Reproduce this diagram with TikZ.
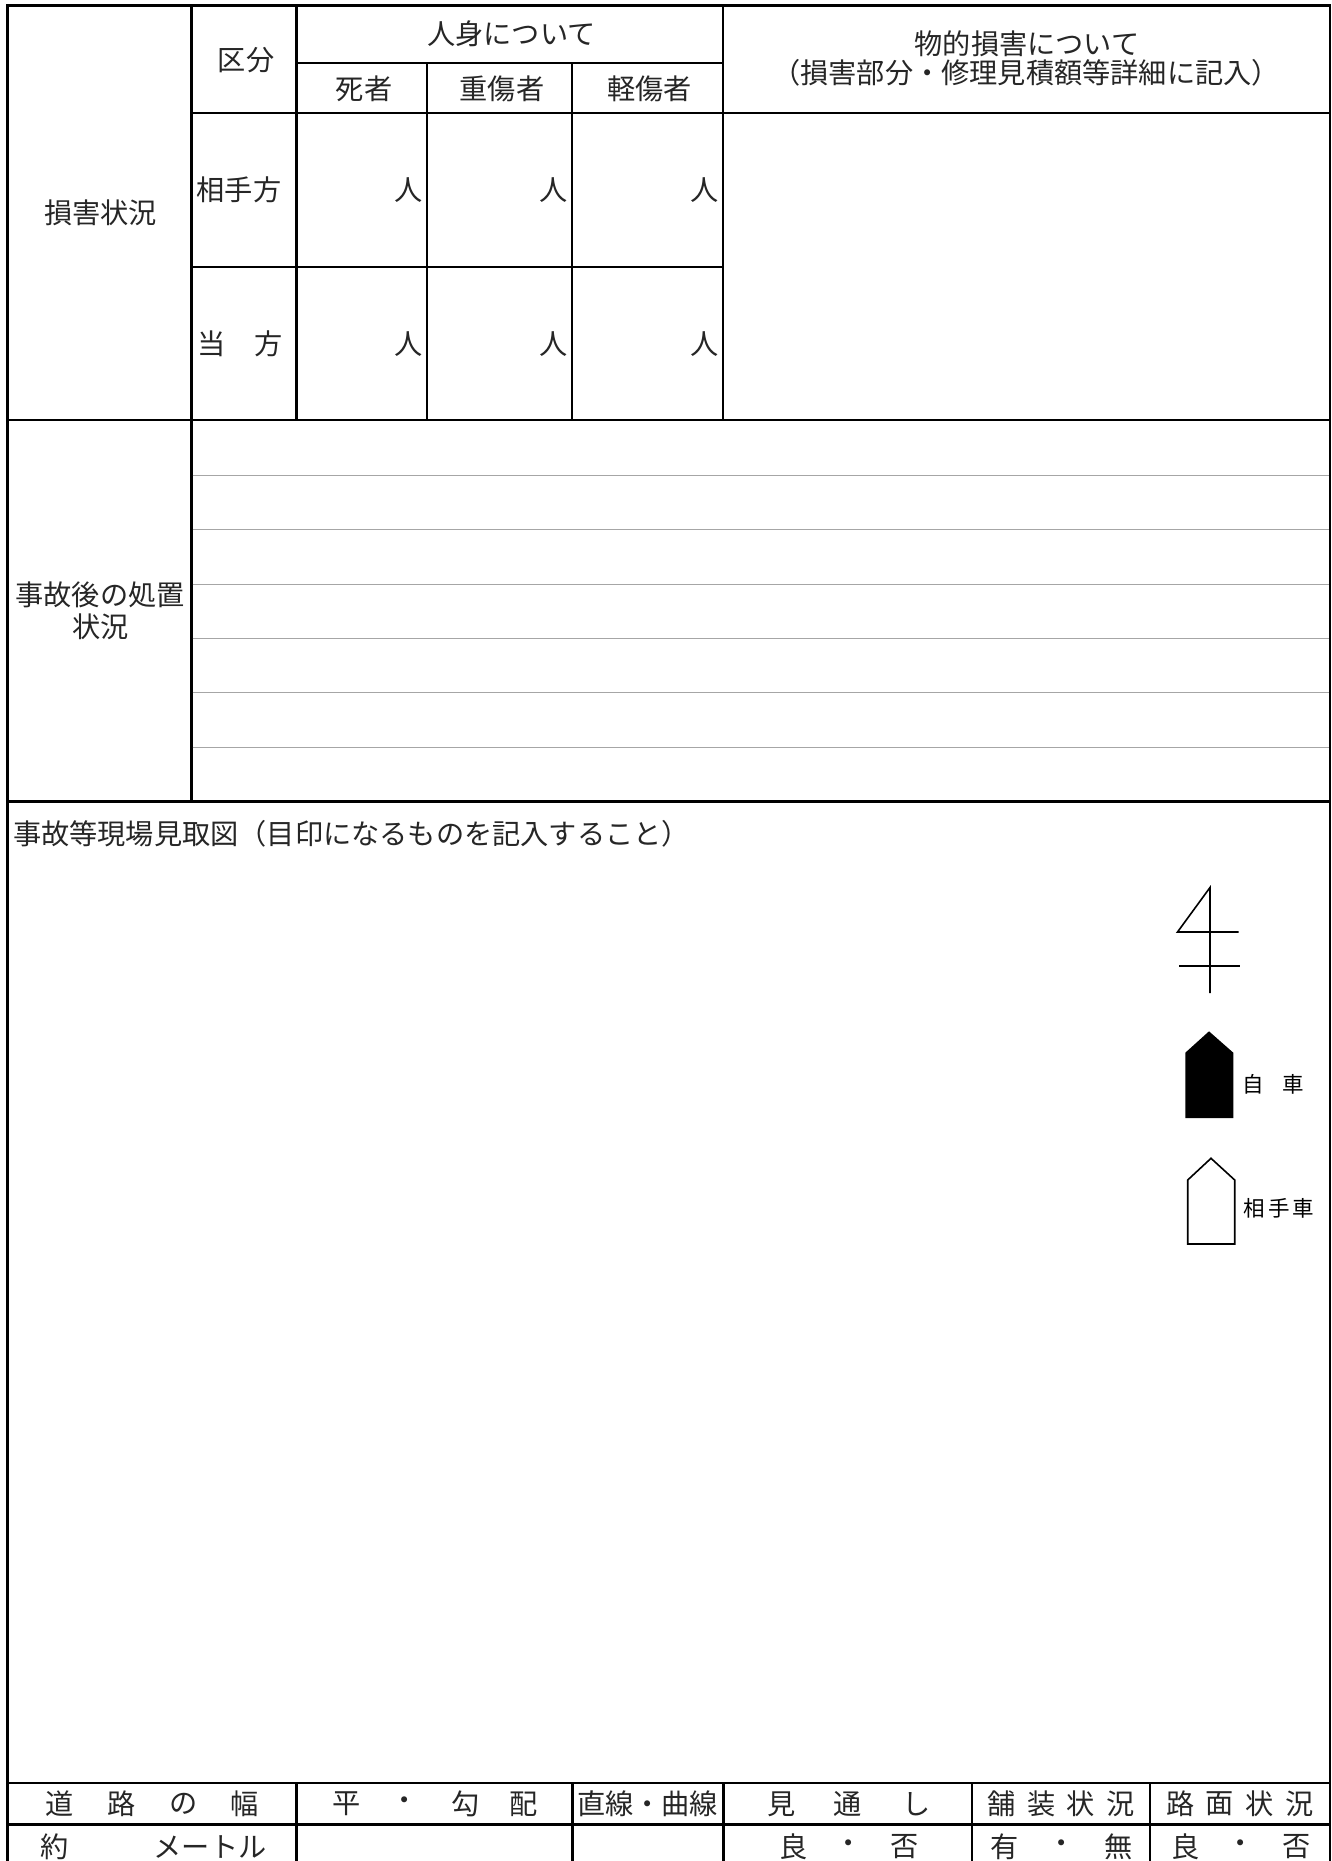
\documentclass[tikz,border=0pt]{standalone}
\usepackage{fontspec}
\setmainfont{Noto Sans CJK JP}
\tikzset{
  x=1pt,y=-1pt,
  rule/.style={line width=2.5pt,black},
  faint/.style={line width=1pt,color=black!35},
  sym/.style={line width=1.6pt,black},
  txt/.style={inner sep=0pt,font=\fontsize{28.2pt}{32pt}\selectfont,text=black!85},
  small/.style={inner sep=0pt,font=\fontsize{21.5pt}{24pt}\selectfont,text=black},
}
\begin{document}
\begin{tikzpicture}
\useasboundingbox[fill=white] (0,0) rectangle (1332,1861);
% outer frame and horizontals
\draw[rule] (7.5,1861) -- (7.5,5.5) -- (1330,5.5) -- (1330,1861);
\draw[rule] (296.5,63) -- (722.5,63);
\draw[rule] (191.5,113) -- (1330,113);
\draw[rule] (191.5,267) -- (722.5,267);
\draw[rule] (7.5,420) -- (1330,420);
\draw[rule] (7.5,801.5) -- (1330,801.5);
\draw[rule] (7.5,1783) -- (1330,1783);
\draw[rule] (7.5,1824.5) -- (1330,1824.5);
% verticals
\draw[rule] (191.5,5.5) -- (191.5,801.5);
\draw[rule] (296.5,5.5) -- (296.5,420);
\draw[rule] (427,63) -- (427,420);
\draw[rule] (572,63) -- (572,420);
\draw[rule] (723,5.5) -- (723,420);
\draw[rule] (296.5,1783) -- (296.5,1861);
\draw[rule] (572.5,1783) -- (572.5,1861);
\draw[rule] (723.5,1783) -- (723.5,1861);
\draw[rule] (972,1783) -- (972,1861);
\draw[rule] (1150,1783) -- (1150,1861);
% ruled writing lines
\foreach \yy in {475.5,529.5,584,638.5,692.5,747.5}
  \draw[faint] (192.5,\yy) -- (1328.8,\yy);
% upper table
\node[txt] (t1) at (100.5,213) {損害状況};
\node[txt] (t2) at (246,60.5) {区分};
\node[txt] (t3) at (511.5,34) {人身について};
\node[txt] (t4) at (364,89) {死者};
\node[txt] (t5) at (502,89) {重傷者};
\node[txt] (t6) at (649.5,89) {軽傷者};
\node[txt] (t7) at (239,190) {相手方};
\node[txt] (t8) at (240,344) {当　方};
\node[txt] (p1) at (408.5,190.5) {人};
\node[txt] (p2) at (553.5,190.5) {人};
\node[txt] (p3) at (705,190.5) {人};
\node[txt] (p4) at (408.5,344) {人};
\node[txt] (p5) at (553.5,344) {人};
\node[txt] (p6) at (705,344) {人};
\node[txt] (t9) at (1027,44) {物的損害について};
\node[txt] (t10) at (1026,72.5) {（損害部分・修理見積額等詳細に記入）};
\node[txt] (t11) at (100,595) {事故後の処置};
\node[txt] (t12) at (100.5,627) {状況};
\node[txt,anchor=west] (t13) at (13,834) {事故等現場見取図（目印になるものを記入すること）};
% north symbol
\draw[sym] (1210,993) -- (1210,887.5) -- (1177.5,932) -- (1238.5,932);
\draw[sym] (1179,965.7) -- (1240,965.7);
% cars
\fill[black] (1185.3,1118) -- (1185.3,1052.7) -- (1209,1031.3) -- (1233.3,1052.7) -- (1233.3,1118) -- cycle;
\draw[sym] (1187.7,1244) -- (1187.7,1180) -- (1211,1158.3) -- (1234.7,1180) -- (1234.7,1244) -- cycle;
\node[small] (c1) at (1253.5,1084) {自};
\node[small] (c2) at (1293,1084) {車};
\node[small] (c3) at (1254.5,1208) {相};
\node[small] (c4) at (1279,1208) {手};
\node[small] (c5) at (1303,1208) {車};
% bottom table
\foreach \n/\xx/\s in {a/60/道,b/122/路,c/183.5/の,d/245/幅,e/347/平,f/404.5/・,g/465.5/勾,h/524/配,i/782/見,j/848/通,k/917/し,l/1002/舗,m/1041.5/装,n/1081/状,o/1121/況,p/1181/路,q/1219.5/面,r/1259.5/状,s/1299.5/況}
  \node[txt] (h\n) at (\xx,1804) {\s};
\node[txt] (hz) at (647.5,1804) {直線・曲線};
\foreach \n/\xx/\s in {a/794/良,b/849/・,c/905/否,d/1005/有,e/1062/・,f/1118.5/無,g/1186/良,h/1241/・,i/1297/否,j/55/約}
  \node[txt] (v\n) at (\xx,1846.5) {\s};
\node[txt] (vz) at (210,1846.5) {メートル};
\end{tikzpicture}
\end{document}
